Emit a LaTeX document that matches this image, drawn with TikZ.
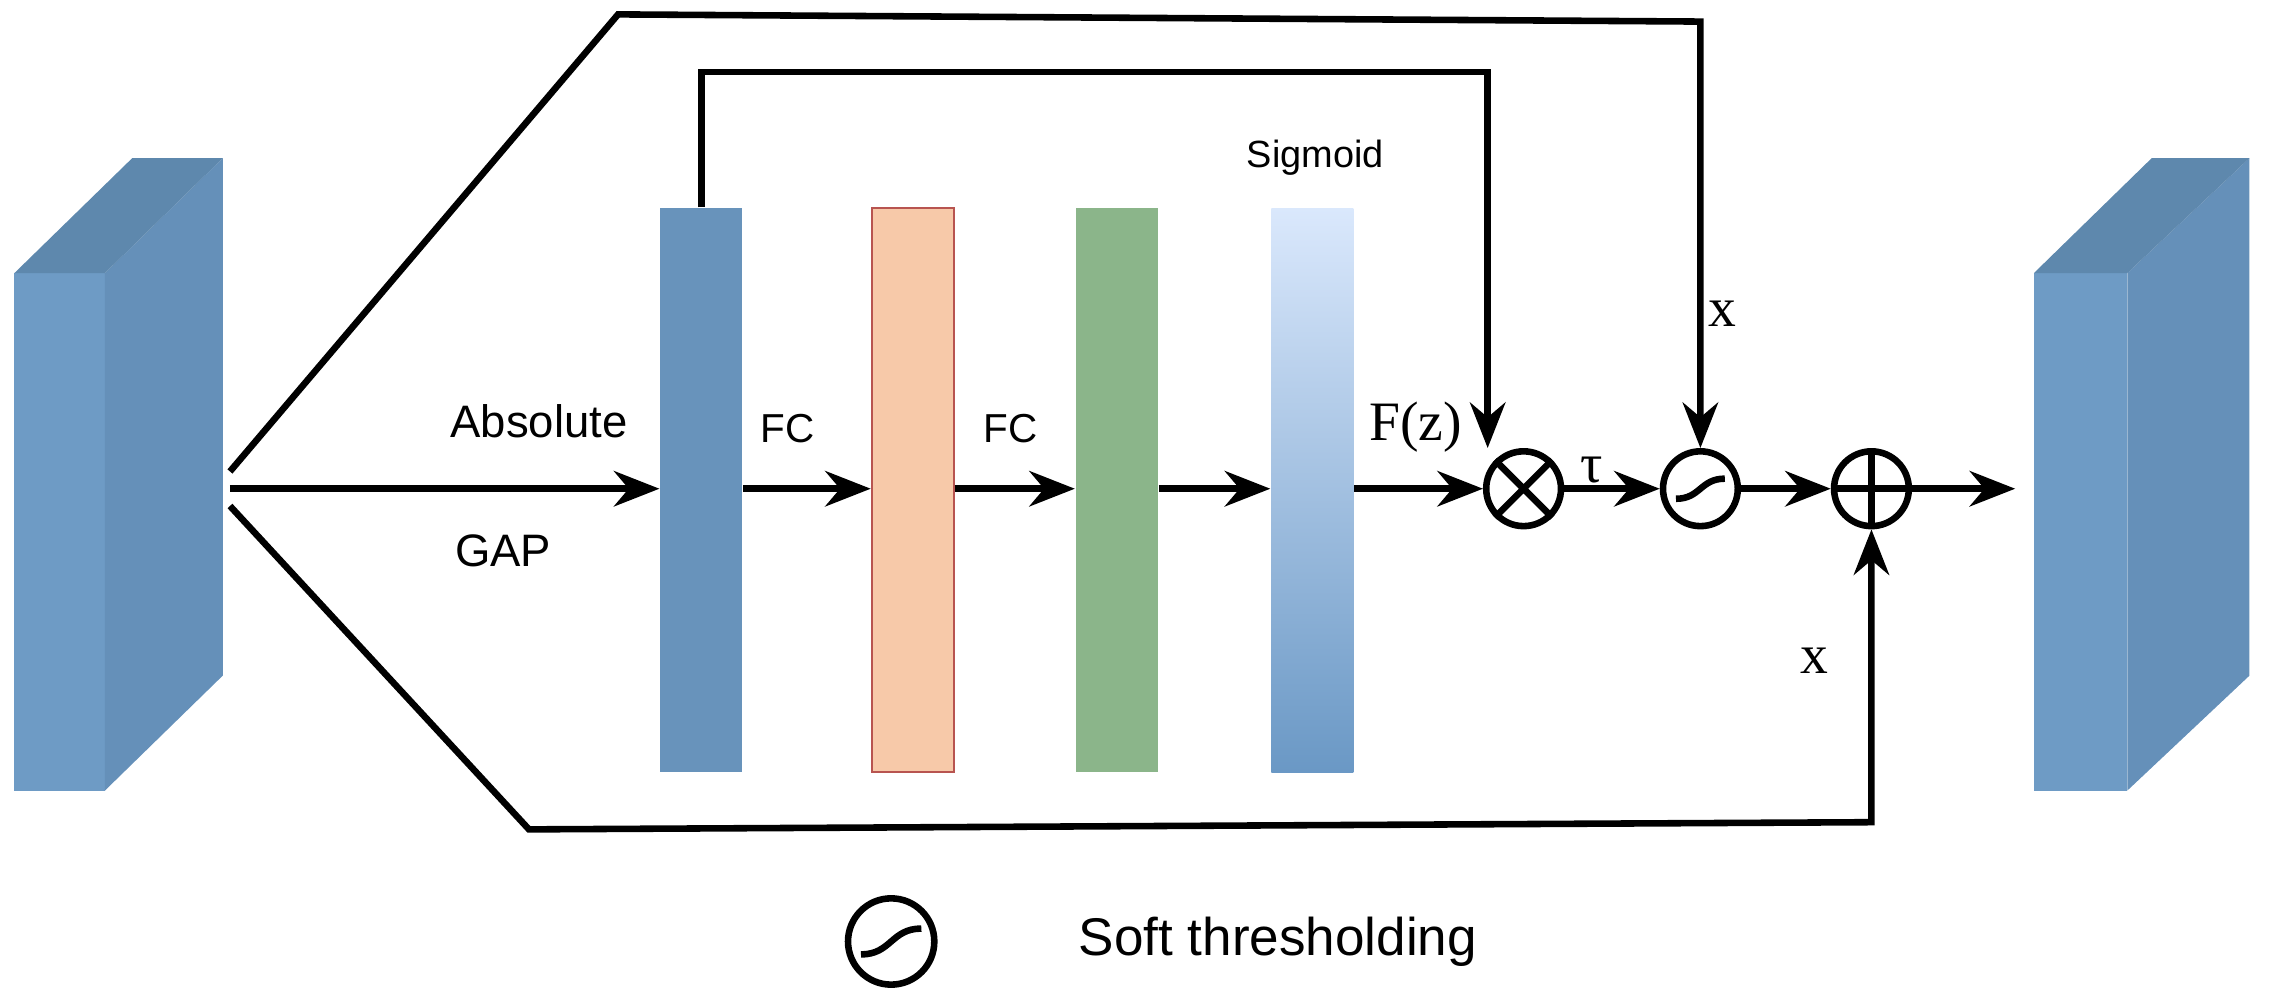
\documentclass[tikz,border=0pt]{standalone}
\usepackage{fontspec}
\usetikzlibrary{arrows.meta}
\setmainfont{Liberation Sans}
\newfontfamily\serf{Liberation Serif}
\begin{document}
\begin{tikzpicture}[x=0.01cm,y=-0.01cm,
 ln/.style={line width=1.3pt},
 ar/.style={line width=1.3pt,-{Stealth[length=9pt,width=7pt]}},
 op/.style={circle,draw,line width=1.3pt,minimum size=0.52cm,inner sep=0pt},
 lab/.style={font=\fontsize{9}{10}\selectfont},
 slab/.style={font=\serf\fontsize{11}{12}\selectfont}]
\useasboundingbox (0,0) rectangle (1580,690);
\definecolor{fr}{HTML}{6E9BC5}\definecolor{sd}{HTML}{6590B9}\definecolor{tp}{HTML}{5E88AD}
% left block
\fill[fr] (10,190) rectangle (73,550);
\fill[sd] (73,190) -- (155,110) -- (155,470) -- (73,550) -- cycle;
\fill[tp] (10,190) -- (92,110) -- (155,110) -- (73,190) -- cycle;
% right block
\fill[fr] (1415,190) rectangle (1480,550);
\fill[sd] (1480,190) -- (1565,110) -- (1565,470) -- (1480,550) -- cycle;
\fill[tp] (1415,190) -- (1497,110) -- (1565,110) -- (1480,190) -- cycle;
\coordinate (L) at (160,340);
% bars
\node[fill=fr!95!black, minimum width=0.57cm, minimum height=3.92cm, inner sep=0] (b1) at (488,341) {};
\node[fill={rgb,255:red,247;green,201;blue,169}, draw={rgb,255:red,184;green,84;blue,80}, minimum width=0.57cm, minimum height=3.92cm, inner sep=0] (b2) at (635,341) {};
\node[fill={rgb,255:red,139;green,181;blue,138}, minimum width=0.57cm, minimum height=3.92cm, inner sep=0] (b3) at (777,341) {};
\node[top color={rgb,255:red,218;green,232;blue,252}, bottom color={rgb,255:red,106;green,152;blue,197}, minimum width=0.57cm, minimum height=3.92cm, inner sep=0] (b4) at (913,341) {};
% ops
\node[op] (m) at (1060,340) {};
\draw[ln] (m.45) -- (m.225) (m.135) -- (m.315);
\node[op] (s) at (1183,340) {};
\draw[ln] (1166,347) .. controls (1183,347) and (1183,333) .. (1200,333);
\node[op] (p) at (1302,340) {};
\draw[ln] (p.north) -- (p.south) (p.west) -- (p.east);
\coordinate (R) at (1402,340);
% arrows
\draw[ar] (L) -- (b1.west|-L);
\draw[ar] (b1.east|-L) -- (b2.west|-L);
\draw[ar] (b2.east|-L) -- (b3.west|-L);
\draw[ar] (b3.east|-L) -- (b4.west|-L);
\draw[ar] (b4.east|-L) -- (m);
\draw[ar] (m) -- (s);
\draw[ar] (s) -- (p);
\draw[ar] (p) -- (R);
\coordinate (t1) at (160,328); \coordinate (t2) at (430,10); \coordinate (t3) at (1183,15);
\draw[ar] (t1) -- (t2) -- (t3) -- (s);
\coordinate (u1) at (488,50); \coordinate (u2) at (1035,50);
\draw[ar] (b1.north) -- (u1) -- (u2) -- (u2|-m.north);
\coordinate (d1) at (160,352); \coordinate (d2) at (368,577); \coordinate (d3) at (1302,572);
\draw[ar] (d1) -- (d2) -- (d3) -- (p);
% labels
\node[lab] at (375,293) {Absolute};
\node[lab] at (350,383) {GAP};
\node[font=\fontsize{8}{9}\selectfont] at (548,298) {FC};
\node[font=\fontsize{8}{9}\selectfont] at (703,298) {FC};
\node[font=\fontsize{7.5}{9}\selectfont] at (915,110) {Sigmoid};
\node[slab] at (985,297) {F(z)};
\node[slab] at (1107,327) {τ};
\node[slab] at (1198,218) {x};
\node[slab] at (1262,460) {x};
% legend
\node[op,minimum size=0.6cm] (lg) at (620,655) {};
\draw[ln] (599,664) .. controls (620,664) and (620,646) .. (641,646);
\node[font=\fontsize{10.5}{12}\selectfont, anchor=west] at (738,655) {Soft thresholding};
\end{tikzpicture}
\end{document}
